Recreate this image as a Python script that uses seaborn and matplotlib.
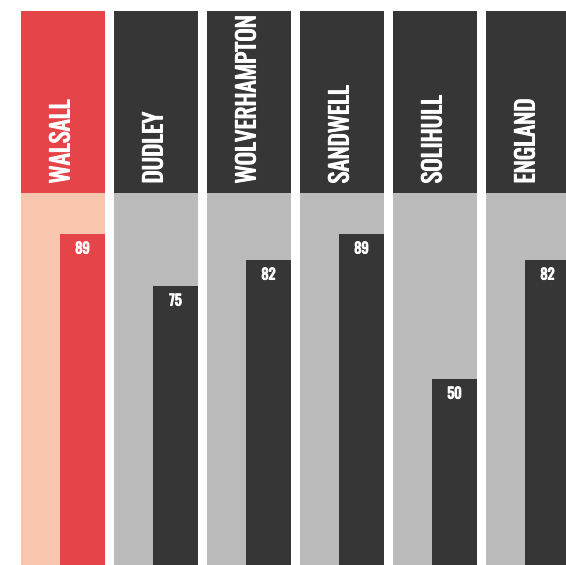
import matplotlib
matplotlib.use("Agg")
import matplotlib.pyplot as plt
import matplotlib.patheffects as pe
import seaborn as sns
import numpy as np
import pandas as pd

# Data
areas = ["WALSALL", "DUDLEY", "WOLVERHAMPTON", "SANDWELL", "SOLIHULL", "ENGLAND"]
values = [89, 75, 82, 89, 50, 82]
highlight = "WALSALL"

# Colours
RED = "#E54548"
PEACH = "#F8C5AF"
DARK = "#363636"
GREY = "#BBBBBB"

sns.set_theme(style="white")
plt.rcParams["font.family"] = ["Oswald", "DejaVu Sans"]

W, H = 566, 565
fig = plt.figure(figsize=(W / 100, H / 100), dpi=100)
ax = fig.add_axes([0, 0, 1, 1])

# layout in pixel terms: column pitch 93px, first centre at 63px
pitch_px = 93.0
first_px = 63.0
col_w = 84.0 / pitch_px
bar_w = 45.0 / pitch_px
bar_off = 19.5 / pitch_px
px_per_unit = 372.0 / 100.0
head_top = 100 + 182.0 / px_per_unit

pos = np.arange(len(areas), dtype=float)
df = pd.DataFrame({"area": areas, "value": values, "pos": pos})
df["head"] = head_top
df["panel"] = 100.0
df["barpos"] = df["pos"] + bar_off

head_pal = {a: (RED if a == highlight else DARK) for a in areas}
panel_pal = {a: (PEACH if a == highlight else GREY) for a in areas}
bar_pal = head_pal

common = dict(hue="area", native_scale=True, legend=False, ax=ax,
              saturation=1, linewidth=0, dodge=False)
# header blocks (lower part is covered by the panels)
sns.barplot(data=df, x="pos", y="head", palette=head_pal, width=col_w, **common)
# background panels spanning the 0-100 range
sns.barplot(data=df, x="pos", y="panel", palette=panel_pal, width=col_w, **common)
# value bars
sns.barplot(data=df, x="barpos", y="value", palette=bar_pal, width=bar_w, **common)

ax.set_xlim(-first_px / pitch_px, (W - first_px) / pitch_px)
ax.set_ylim(0, 100 + 193 / px_per_unit)
ax.axis("off")

# size the header font so the longest name fills the block height
renderer = fig.canvas.get_renderer()
probe = ax.text(0, 0, max(areas, key=len), rotation=90, fontsize=20)
length = probe.get_window_extent(renderer).height
probe.remove()
head_fs = 20 * 168.0 / length

probe = ax.text(0, 0, "89", fontsize=14)
dw = probe.get_window_extent(renderer).width
probe.remove()
val_fs = 14 * 14.5 / dw

bold = [pe.withStroke(linewidth=0.75, foreground="white")]

# header labels
for p, a in zip(pos, areas):
    ax.text(p - 1.5 / pitch_px, 100 + 9.5 / px_per_unit, a, rotation=90,
            ha="center", va="bottom", color="white", fontsize=head_fs,
            path_effects=bold)

# value labels
for bp, v in zip(df["barpos"], values):
    ax.text(bp, v - 15 / px_per_unit, f"{v}", ha="center", va="center",
            color="white", fontsize=val_fs, path_effects=bold)

fig.savefig("out.png", dpi=100)
